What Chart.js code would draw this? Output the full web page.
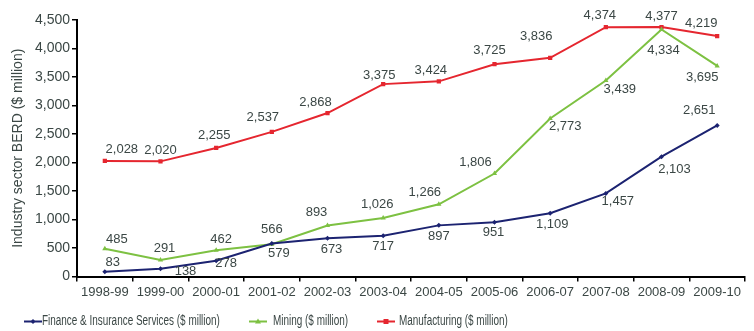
<!DOCTYPE html>
<html><head><meta charset="utf-8">
<script src="https://cdn.jsdelivr.net/npm/chart.js@4/dist/chart.umd.min.js"></script>
<style>html,body{margin:0;padding:0;background:#fff;}#wrap{width:754px;height:331px;}</style>
</head><body><div id="wrap"><canvas id="c" width="754" height="331"></canvas></div>
<script>
const categories = ['1998-99','1999-00','2000-01','2001-02','2002-03','2003-04','2004-05','2005-06','2006-07','2007-08','2008-09','2009-10'];
const finance = [83,138,278,579,673,717,897,951,1109,1457,2103,2651];
const mining = [485,291,462,566,893,1026,1266,1806,2773,3439,4334,3695];
const manufacturing = [2028,2020,2255,2537,2868,3375,3424,3725,3836,4374,4377,4219];
const yTicks = [0,500,1000,1500,2000,2500,3000,3500,4000,4500];
const seriesNames = ['Finance & Insurance Services ($ million)','Mining ($ million)','Manufacturing ($ million)'];

// label offsets (style only) [dx, dy] from each point to label centre
const financeLabelOff = [[8,-9],[25,3],[10,3],[7,10],[4,11],[0,11],[0,11],[-1,10],[2,11],[12,8],[13,13],[-18,-15]];
const miningLabelOff = [[12,-9],[4,-11],[5,-11],[0,-15],[-11,-13],[-6,-14],[-14,-12],[-19,-11],[15,8],[14,9],[2,21],[-15,12]];
const manufLabelOff = [[17,-11],[0,-11],[-2,-13],[-9,-14],[-12,-11],[-4,-9],[-8,-11],[-5,-14],[-14,-21],[-6,-12],[0,-11],[-16,-13]];

const FONT = "'Liberation Sans',Arial,sans-serif";
const TXT = '#3b4745';
const C_FIN = '#1c2371', C_MIN = '#7dc142', C_MAN = '#e5262f';

const labelPlugin = {
  id:'valLabels',
  afterDatasetsDraw(chart){
    const ctx = chart.ctx;
    const offs = [financeLabelOff, miningLabelOff, manufLabelOff];
    ctx.save();
    ctx.font = '13px ' + FONT;
    ctx.fillStyle = TXT;
    ctx.textAlign = 'center'; ctx.textBaseline = 'middle';
    chart.data.datasets.forEach((ds, i) => {
      const meta = chart.getDatasetMeta(i);
      meta.data.forEach((pt, j) => {
        const o = offs[i][j];
        ctx.fillText(ds.data[j].toLocaleString('en-US'), pt.x + o[0], pt.y + o[1]);
      });
    });
    ctx.restore();
  }
};

// bottom legend: line + marker icon, condensed text
const legendPlugin = {
  id:'bottomLegend',
  afterDraw(chart){
    const ctx = chart.ctx;
    const iconX = [24,249,377], textX = [42,273,399], y = 321.5;
    const styles = ['diamond','triangle','rect'];
    ctx.save();
    chart.data.datasets.forEach((ds,i)=>{
      const c = ds.borderColor, x0 = iconX[i], cx = x0 + 9;
      ctx.strokeStyle = c; ctx.fillStyle = c; ctx.lineWidth = 2;
      ctx.beginPath(); ctx.moveTo(x0, y); ctx.lineTo(x0+18, y); ctx.stroke();
      ctx.beginPath();
      if (styles[i]==='rect') ctx.rect(cx-2.5, y-2.5, 5, 5);
      else if (styles[i]==='triangle'){ ctx.moveTo(cx, y-3); ctx.lineTo(cx+3, y+2); ctx.lineTo(cx-3, y+2); ctx.closePath(); }
      else { ctx.moveTo(cx, y-2.5); ctx.lineTo(cx+2.5, y); ctx.lineTo(cx, y+2.5); ctx.lineTo(cx-2.5, y); ctx.closePath(); }
      ctx.fill();
      ctx.save();
      ctx.translate(textX[i], y);
      ctx.scale(0.71, 1);
      ctx.font = '14px ' + FONT; ctx.fillStyle = TXT;
      ctx.textAlign = 'left'; ctx.textBaseline = 'middle';
      ctx.fillText(ds.label, 0, 0);
      ctx.restore();
    });
    ctx.restore();
  }
};

new Chart(document.getElementById('c'), {
  type:'line',
  data:{
    labels: categories,
    datasets:[
      {label:seriesNames[0], data:finance, borderColor:C_FIN, backgroundColor:C_FIN, borderWidth:2, pointStyle:'rectRot', pointRadius:2.5, pointBorderWidth:0, tension:0},
      {label:seriesNames[1], data:mining, borderColor:C_MIN, backgroundColor:C_MIN, borderWidth:2, pointStyle:'triangle', pointRadius:3, pointBorderWidth:0, tension:0},
      {label:seriesNames[2], data:manufacturing, borderColor:C_MAN, backgroundColor:C_MAN, borderWidth:2, pointStyle:'rect', pointRadius:3, pointBorderWidth:0, tension:0}
    ]
  },
  options:{
    responsive:false, animation:false,
    layout:{padding:{left:0,right:9,top:20,bottom:30}},
    plugins:{ tooltip:{enabled:false}, legend:{display:false} },
    scales:{
      x:{
        offset:true,
        afterFit(s){ s.height = 24.5; },
        grid:{display:true, drawOnChartArea:false, drawTicks:true, tickLength:5, color:'#000', offset:true, lineWidth:1.5},
        border:{color:'#000', width:2},
        ticks:{font:{size:13, family:FONT}, color:TXT, padding:3, maxRotation:0, autoSkip:false}
      },
      y:{
        min:0, max:4500,
        afterFit(s){ s.width = 77; },
        afterBuildTicks(s){ s.ticks = yTicks.map(v=>({value:v})); },
        grid:{display:true, drawOnChartArea:false, drawTicks:true, tickLength:5, color:'#000', lineWidth:1.5},
        border:{color:'#000', width:2},
        ticks:{font:{size:14, family:FONT}, color:TXT, padding:2, callback:v=>v.toLocaleString('en-US')},
        title:{display:true, text:'Industry sector BERD ($ million)', font:{size:14, family:FONT}, color:TXT, padding:{top:10,bottom:4}}
      }
    }
  },
  plugins:[labelPlugin, legendPlugin]
});
</script></body></html>
